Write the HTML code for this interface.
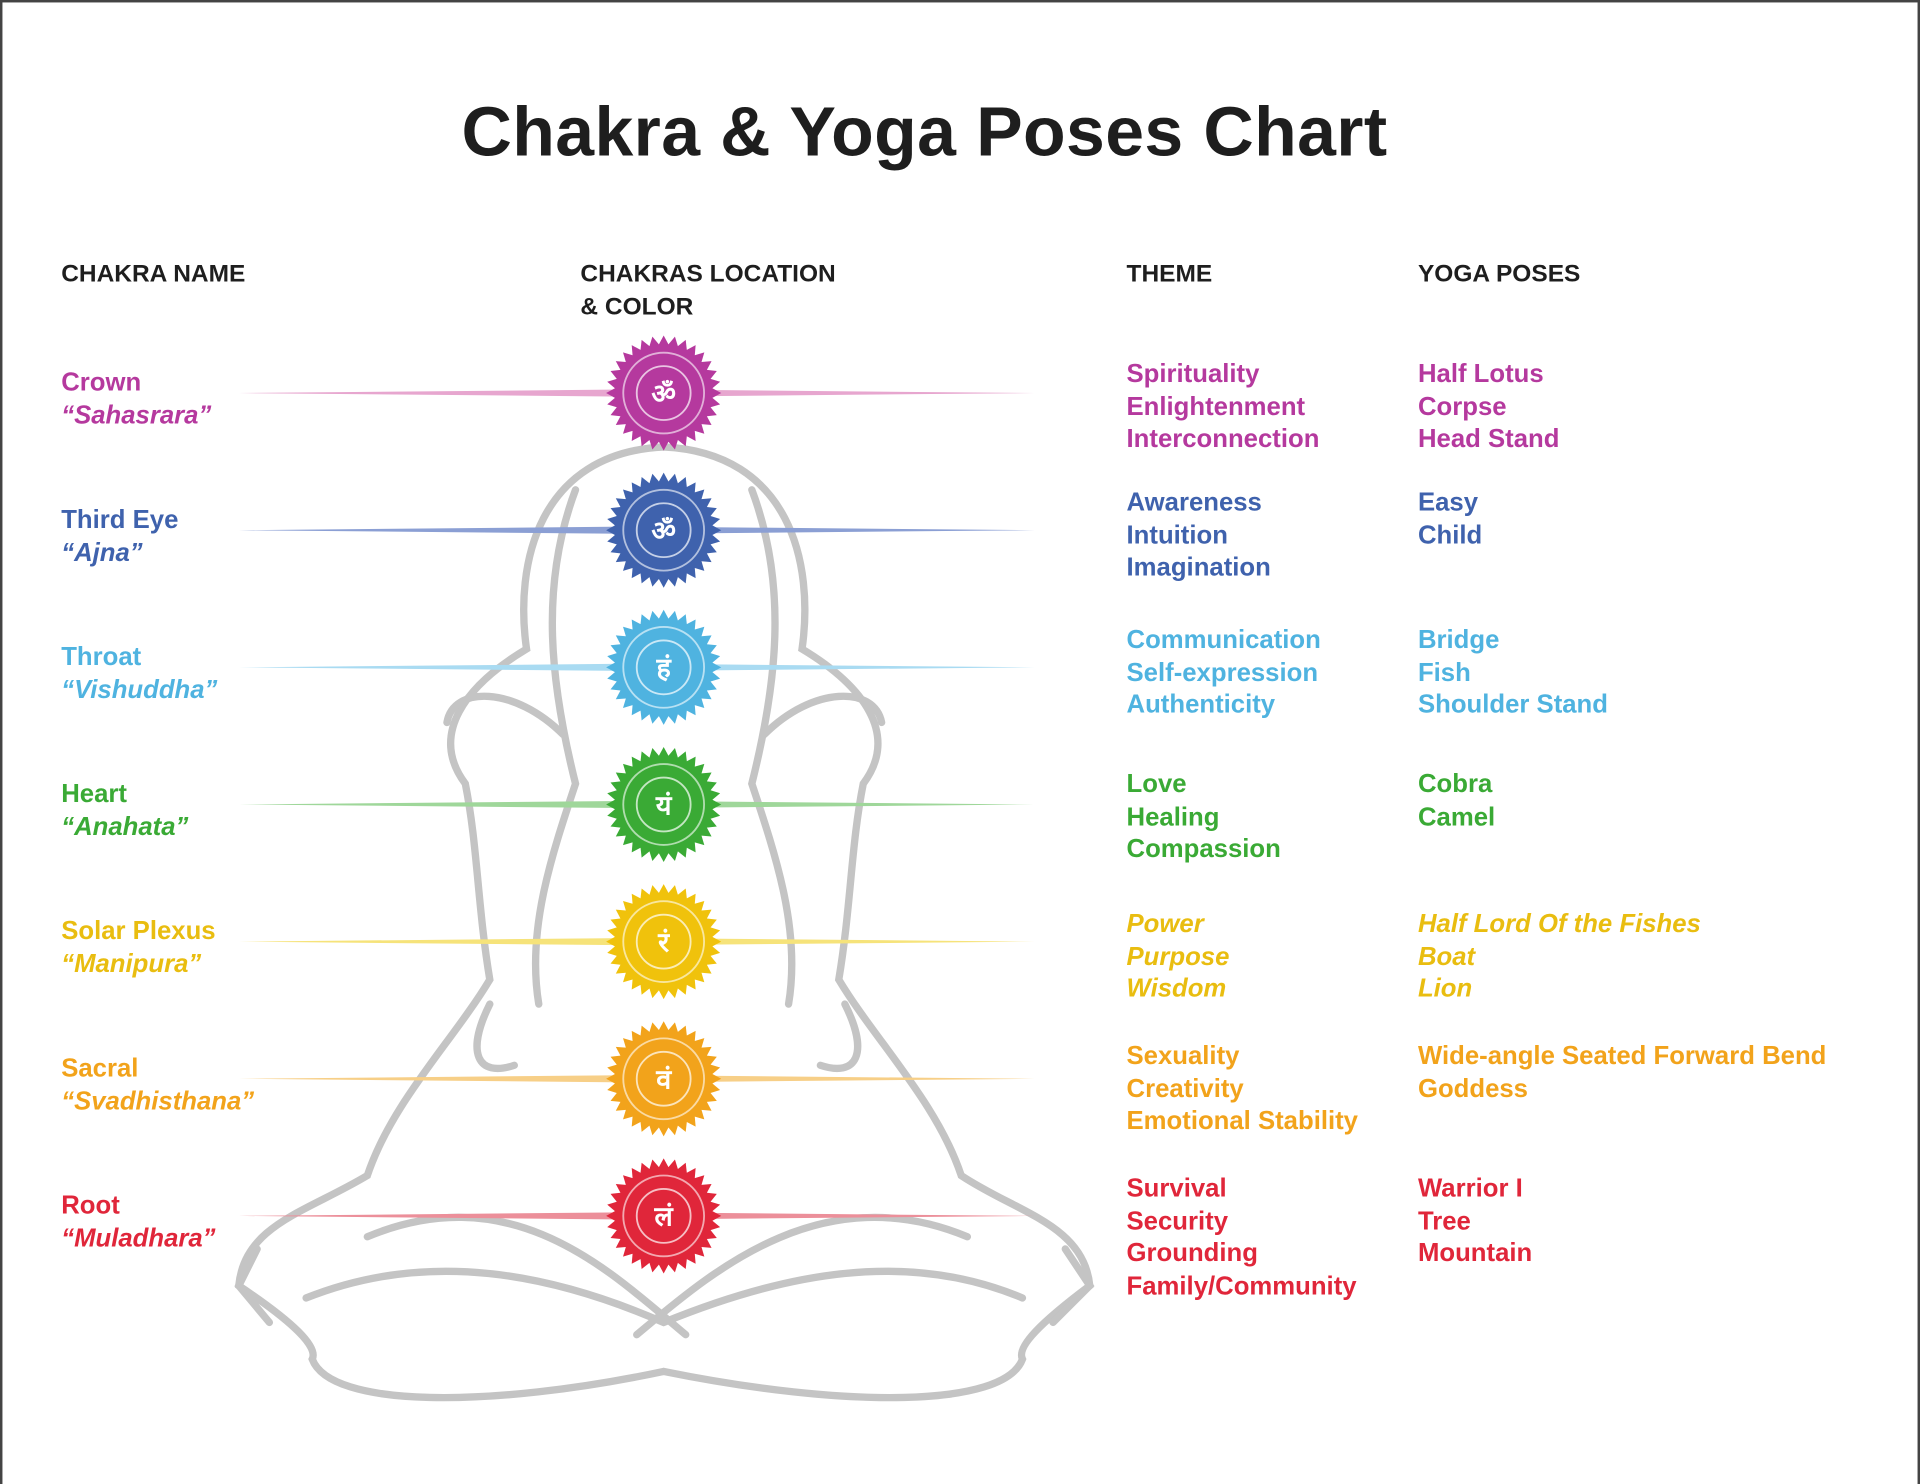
<!DOCTYPE html>
<html><head><meta charset="utf-8">
<style>
html,body{margin:0;padding:0;background:#fff;}
body{width:1920px;height:1484px;overflow:hidden;position:relative;}
#w{position:absolute;left:0;top:0;width:1568px;height:1212px;transform:scale(1.22449);transform-origin:0 0;font-family:"Liberation Sans",sans-serif;font-weight:bold;}
#border{position:absolute;left:0;top:0;width:1564px;height:1210px;border-left:2px solid #444;border-top:2px solid #444;border-right:2px solid #444;}
.t{position:absolute;font-size:21px;line-height:26.7px;white-space:nowrap;}
.i{font-style:italic;}
h1{position:absolute;left:0;width:1510px;text-align:center;top:75px;margin:0;font-size:57px;color:#1e1e1e;letter-spacing:0.3px;}
.h{position:absolute;top:211px;font-size:20px;line-height:27px;color:#1e1e1e;}
svg{position:absolute;left:0;top:0;}
</style></head><body><div id="w"><div id="border"></div>
<h1>Chakra &amp; Yoga Poses Chart</h1>
<div class="h" style="left:50px">CHAKRA NAME</div>
<div class="h" style="left:474px">CHAKRAS LOCATION<br>&amp; COLOR</div>
<div class="h" style="left:920px">THEME</div>
<div class="h" style="left:1158px">YOGA POSES</div>
<svg id="s" width="1568" height="1212"></svg>
<div id="txt"></div>
</div>
<script>
var C=[
["#b5399e",321,"Crown","“Sahasrara”",["Spirituality","Enlightenment","Interconnection"],["Half Lotus","Corpse","Head Stand"],"ॐ",0,"#e7a6cf"],
["#3f62ad",433,"Third Eye","“Ajna”",["Awareness","Intuition","Imagination"],["Easy","Child"],"ॐ",0,"#8b9fd4"],
["#4fb3e0",545,"Throat","“Vishuddha”",["Communication","Self-expression","Authenticity"],["Bridge","Fish","Shoulder Stand"],"हं",0,"#a9dbf2"],
["#3aaa35",657,"Heart","“Anahata”",["Love","Healing","Compassion"],["Cobra","Camel"],"यं",0,"#9fd79a"],
["#f0c20c",769,"Solar Plexus","“Manipura”",["Power","Purpose","Wisdom"],["Half Lord Of the Fishes","Boat","Lion"],"रं",1,"#f6e37a"],
["#f2a31b",881,"Sacral","“Svadhisthana”",["Sexuality","Creativity","Emotional Stability"],["Wide-angle Seated Forward Bend","Goddess"],"वं",0,"#f7cf87"],
["#e0263a",993,"Root","“Muladhara”",["Survival","Security","Grounding","Family/Community"],["Warrior I","Tree","Mountain"],"लं",0,"#ec8f9a"]];
var tops=[305,410,522,640,754,862,970];
var s='';
var g='#c4c4c4';
s+='<g fill="none" stroke="'+g+'" stroke-width="6" stroke-linecap="round">';
s+='<path d="M542 365 C440 370 420 460 430 530 C380 560 350 600 380 640 C390 690 390 740 400 800 C370 850 320 900 300 960 C250 990 200 1000 195 1050 C240 1080 260 1100 255 1110 C270 1150 400 1150 542 1120 C690 1150 820 1150 835 1110 C830 1100 850 1080 890 1050 C885 1000 830 990 785 960 C765 900 715 850 685 800 C695 740 695 690 705 640 C735 600 705 560 655 530 C665 460 645 370 542 365Z"/>';
s+='<path d="M470 400 C440 480 450 560 470 640 C450 700 430 760 440 820"/><path d="M614 400 C644 480 634 560 614 640 C634 700 654 760 644 820"/>';
s+='<path d="M460 600 C420 560 370 560 365 590"/><path d="M624 600 C664 560 714 560 720 590"/>';
s+='<path d="M250 1060 C350 1020 450 1040 542 1080 C640 1040 740 1020 835 1060"/>';
s+='<path d="M300 1010 C420 960 500 1040 560 1090"/><path d="M790 1010 C670 960 580 1040 520 1090"/>';
s+='<path d="M400 820 C380 860 390 880 420 870"/><path d="M690 820 C710 860 700 880 670 870"/>';
s+='<path d="M210 1020 L195 1050 L220 1080 M870 1020 L890 1050 L860 1080"/>';
s+='</g>';
C.forEach(function(c,k){
 var y=c[1],col=c[0];
 s+='<polygon points="195,'+(y)+' 520,'+(y-3)+' 845,'+(y)+' 520,'+(y+3)+'" fill="'+c[8]+'"/>';
 var p=[],n=32;
 for(var i=0;i<n*2;i++){var a=i*Math.PI/n,r=i%2?40:47;p.push((542+r*Math.cos(a)).toFixed(1)+','+(y+r*Math.sin(a)).toFixed(1));}
 s+='<polygon points="'+p.join(' ')+'" fill="'+col+'"/>';
 s+='<circle cx="542" cy="'+y+'" r="33" fill="none" stroke="#fff" stroke-opacity=".6" stroke-width="1.5"/>';
 s+='<circle cx="542" cy="'+y+'" r="22" fill="none" stroke="#fff" stroke-opacity=".7" stroke-width="1.5"/>';
 s+='<text x="542" y="'+(y+8)+'" text-anchor="middle" font-size="22" fill="#fff" font-family="DejaVu Sans,sans-serif">'+c[6]+'</text>';
});
document.getElementById('s').innerHTML=s;
var h='';
C.forEach(function(c,k){
 var tc=c[0]=="#f0c20c"?"#e9bd10":c[0];
 var ny=c[1]-21;
 h+='<div class="t" style="left:50px;top:'+ny+'px;color:'+tc+'">'+c[2]+'<br><span class="i">'+c[3]+'</span></div>';
 var it=c[7]?' i':'';
 h+='<div class="t'+it+'" style="left:920px;top:'+(tops[k]-12)+'px;color:'+tc+'">'+c[4].join('<br>')+'</div>';
 h+='<div class="t'+it+'" style="left:1158px;top:'+(tops[k]-12)+'px;color:'+tc+'">'+c[5].join('<br>')+'</div>';
});
document.getElementById('txt').innerHTML=h;
</script>
</body></html>
